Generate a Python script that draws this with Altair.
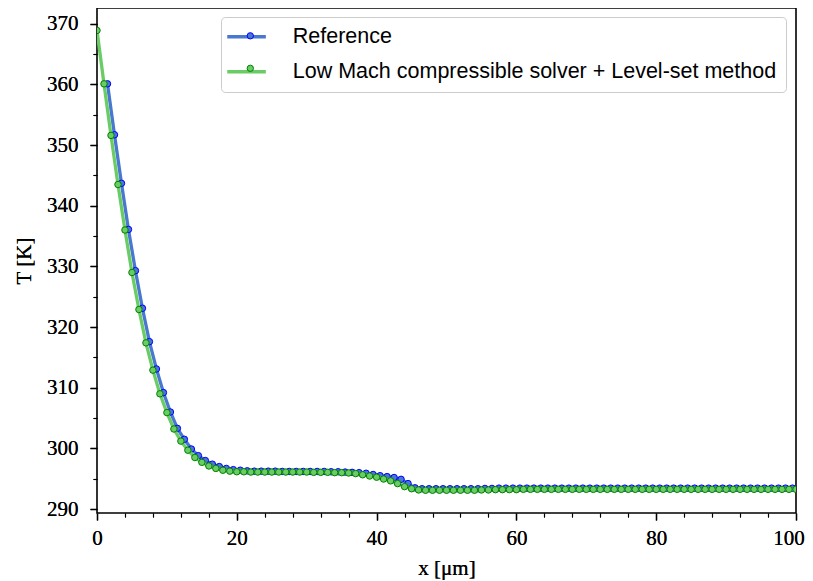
import altair as alt
import pandas as pd

REF_NAME = "Reference"
LM_NAME = "Low Mach compressible solver + Level-set method"
SERIES = [REF_NAME, LM_NAME]

# Low Mach solver: x = 0, 1, ..., 100 [um]
lm_x = list(range(0, 101))
lm_T = [
    368.9, 360.1, 351.6, 343.5, 336.0, 329.0, 322.9, 317.4, 312.9, 309.0,
    305.9, 303.2, 301.2, 299.7, 298.5, 297.7, 297.1, 296.7, 296.4, 296.25,
    296.15, 296.15, 296.1, 296.1, 296.1, 296.1, 296.1, 296.1, 296.1, 296.1,
    296.1, 296.05, 296.05, 296.05, 296.0, 296.0, 295.95, 295.85, 295.65, 295.45,
    295.25, 294.95, 294.65, 294.2, 293.7, 293.35, 293.15, 293.1, 293.1, 293.1,
    293.1, 293.1, 293.1, 293.1, 293.1, 293.15, 293.15, 293.2, 293.2, 293.2,
    293.2, 293.25, 293.25, 293.25, 293.25, 293.25, 293.25, 293.25, 293.25, 293.25,
    293.25, 293.25, 293.25, 293.25, 293.25, 293.25, 293.25, 293.25, 293.25, 293.25,
    293.25, 293.25, 293.25, 293.25, 293.25, 293.25, 293.25, 293.25, 293.25, 293.25,
    293.25, 293.25, 293.25, 293.25, 293.25, 293.25, 293.25, 293.25, 293.25, 293.25,
    293.25,
]

# Reference: x = 1.5, 2.5, ..., 99.5 [um]
ref_x = [i + 0.5 for i in range(1, 100)]
ref_T = [
    360.1, 351.7, 343.7, 336.1, 329.3, 323.1, 317.6, 313.1, 309.2, 306.0,
    303.3, 301.5, 299.9, 298.8, 298.0, 297.4, 297.0, 296.7, 296.5, 296.4,
    296.3, 296.25, 296.25, 296.25, 296.25, 296.2, 296.2, 296.2, 296.2, 296.2,
    296.2, 296.2, 296.15, 296.15, 296.1, 296.05, 296.0, 295.9, 295.7, 295.5,
    295.35, 295.2, 294.9, 294.2, 293.5, 293.35, 293.35, 293.35, 293.35, 293.35,
    293.35, 293.35, 293.35, 293.35, 293.4, 293.4, 293.45, 293.45, 293.45, 293.45,
    293.45, 293.45, 293.45, 293.45, 293.45, 293.45, 293.45, 293.45, 293.45, 293.45,
    293.45, 293.45, 293.45, 293.45, 293.45, 293.45, 293.45, 293.45, 293.45, 293.45,
    293.45, 293.45, 293.45, 293.45, 293.45, 293.45, 293.45, 293.45, 293.45, 293.45,
    293.45, 293.45, 293.45, 293.45, 293.45, 293.45, 293.45, 293.45, 293.45,
]

x_major = [0, 20, 40, 60, 80, 100]
x_minor = [4, 8, 12, 16, 24, 28, 32, 36, 44, 48, 52, 56, 64, 68, 72, 76, 84, 88, 92, 96]
y_major = [290, 300, 310, 320, 330, 340, 350, 360, 370]
y_minor = [295, 305, 315, 325, 335, 345, 355, 365]

LINE_COLORS = ["#4878d0", "#6acc64"]
FACE_COLORS = ["#4878d0", "#6acc64"]
EDGE_COLORS = ["#0000ff", "#008000"]

ref_df = pd.DataFrame({"x": ref_x, "T": ref_T, "series": REF_NAME, "series_p": REF_NAME})
lm_df = pd.DataFrame({"x": lm_x, "T": lm_T, "series": LM_NAME, "series_p": LM_NAME})

SERIF = "Liberation Serif"
SANS = "Liberation Sans"

xs = alt.Scale(domain=[0, 100], nice=False, zero=False)
ys = alt.Scale(domain=[289.35, 372.6], nice=False, zero=False)

x_major_axis = alt.Axis(orient="bottom", values=x_major, tickSize=7, tickWidth=1.3,
                        tickColor="black", labelFont=SERIF, labelFontSize=21,
                        labelColor="black", labelPadding=7, domain=False, grid=False,
                        labelOffset={"condition": {"test": "datum.value === 100",
                                                   "value": -7.5}, "value": 0},
                        title="x [μm]", titleFont=SERIF, titleFontSize=21,
                        titleFontWeight="normal", titleColor="black", titlePadding=9,
                        labelFlush=False)
y_major_axis = alt.Axis(orient="left", values=y_major, tickSize=7, tickWidth=1.3,
                        tickColor="black", labelFont=SERIF, labelFontSize=21,
                        labelColor="black", labelPadding=12, domain=False, grid=False,
                        title="T [K]", titleFont=SERIF, titleFontSize=21,
                        titleFontWeight="normal", titleColor="black", titlePadding=12,
                        labelFlush=False)
x_minor_axis = alt.Axis(orient="bottom", values=x_minor, tickSize=4, tickWidth=1.1,
                        tickColor="black", labels=False, domain=False, grid=False,
                        title=None)
y_minor_axis = alt.Axis(orient="left", values=y_minor, tickSize=4, tickWidth=1.1,
                        tickColor="black", labels=False, domain=False, grid=False,
                        title=None)

LEG_X = 124
LEG_Y = 9
SYM_SIZE = 40  # sqrt -> 6.32 px

line_legend = alt.Legend(orient="none", legendX=LEG_X, legendY=LEG_Y, title=None,
                         symbolType="M-6.1,0L6.1,0", symbolSize=SYM_SIZE,
                         symbolStrokeWidth=3.3, symbolOffset=5.8,
                         labelFont=SANS, labelFontSize=21.5, labelColor="black",
                         labelOffset=35.5, labelLimit=1000, padding=9, rowPadding=12,
                         labelExpr="datum.label + ' '",
                         fillColor="white", strokeColor="#cccccc", cornerRadius=4)
fill_legend = alt.Legend(orient="none", legendX=LEG_X, legendY=LEG_Y + 5.8, title=None,
                         symbolType="circle", symbolSize=SYM_SIZE, symbolStrokeWidth=1,
                         symbolStrokeColor="rgba(0,0,0,0)",
                         symbolOffset=16.3, labelExpr="''", labelFontSize=1,
                         padding=9, rowPadding=20.5)
stroke_legend = alt.Legend(orient="none", legendX=LEG_X, legendY=LEG_Y + 5.8, title=None,
                           symbolType="circle", symbolSize=SYM_SIZE, symbolStrokeWidth=1,
                           symbolFillColor="rgba(0,0,0,0)",
                           symbolOffset=16.3, labelExpr="''", labelFontSize=1,
                           padding=9, rowPadding=20.5)

color_enc = alt.Color("series:N", scale=alt.Scale(domain=SERIES, range=LINE_COLORS),
                      legend=line_legend)
fill_enc = alt.Fill("series_p:N", sort=SERIES, scale=alt.Scale(range=FACE_COLORS),
                    legend=fill_legend)
stroke_enc = alt.Stroke("series_p:N", sort=SERIES, scale=alt.Scale(range=EDGE_COLORS),
                        legend=stroke_legend)


def line_layer(df):
    return alt.Chart(df).mark_line(strokeWidth=3.3, clip=True).encode(
        x=alt.X("x:Q", scale=xs, axis=x_major_axis),
        y=alt.Y("T:Q", scale=ys, axis=y_major_axis),
        color=color_enc,
    )


def point_layer(df):
    return alt.Chart(df).mark_point(filled=True, size=42, strokeWidth=1, opacity=1,
                                    fillOpacity=1, clip=True).encode(
        x=alt.X("x:Q", scale=xs, axis=x_minor_axis),
        y=alt.Y("T:Q", scale=ys, axis=y_minor_axis),
        fill=fill_enc,
        stroke=stroke_enc,
    )


chart = alt.layer(
    line_layer(ref_df), point_layer(ref_df),
    line_layer(lm_df), point_layer(lm_df),
).resolve_axis(x="independent", y="independent").properties(
    width=699, height=505,
    autosize=alt.AutoSizeParams(type="none"),
    padding={"left": 89, "top": 0, "right": 9, "bottom": 72},
).configure_view(stroke="black", strokeWidth=1.6)

chart.save("out.html", embed_options={"renderer": "svg", "actions": False})
